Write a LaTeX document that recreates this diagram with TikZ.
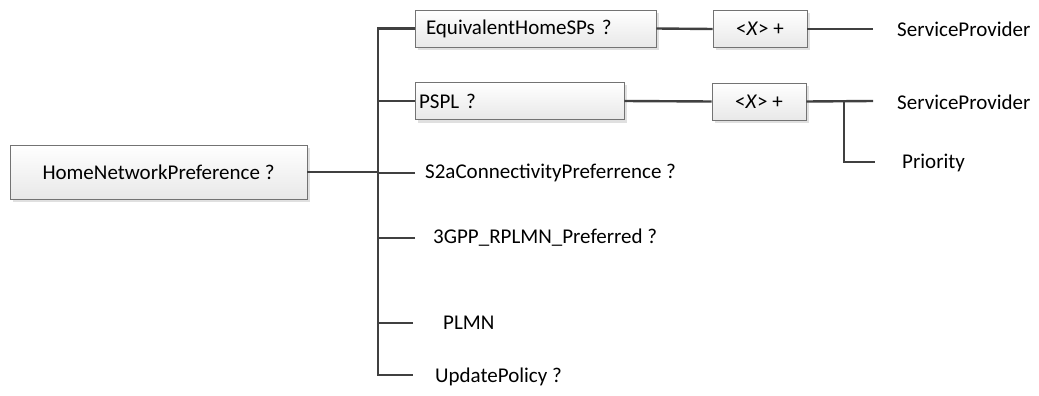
\documentclass[tikz,border=0pt]{standalone}
\usepackage{fontspec}
\setmainfont{Carlito}
\usepackage{tikz}
\usetikzlibrary{shadows}

\begin{document}
\begin{tikzpicture}[x=1pt,y=-1pt,font=\fontsize{21}{24}\selectfont,
  box/.style={draw=black!55,line width=0.8pt,top color=white,bottom color=black!9,
    drop shadow={shadow xshift=3pt,shadow yshift=-3pt,fill=black!12,opacity=1},
    minimum height=37pt},
  leaf/.style={anchor=west,inner sep=0pt},
  ln/.style={draw=black!75,line width=2.4pt}]
\useasboundingbox (0,0) rectangle (1039,396);

\node[box,minimum width=297pt,minimum height=54pt] (root) at (158.5,172) {HomeNetworkPreference ?};
\node[box,text width=219pt,align=left,inner xsep=11pt] (ehsp) at (535.5,28.5) {EquivalentHomeSPs ?};
\node[box,text width=201pt,align=left,inner xsep=4pt] (pspl) at (519.5,101) {PSPL ?};
\node[box,minimum width=94pt] (xa) at (760,29) {<\textit{X}> +};
\node[box,minimum width=94pt] (xb) at (759,101.5) {<\textit{X}> +};

\node[leaf] (spa) at (897,29) {ServiceProvider};
\node[leaf] (spb) at (897,102) {ServiceProvider};
\node[leaf] (prio) at (902,163) {Priority};
\node[leaf] (s2a) at (425,173) {S2aConnectivityPreferrence ?};
\node[leaf] (rplmn) at (433,238) {3GPP\_RPLMN\_Preferred ?};
\node[leaf] (plmn) at (443,323) {PLMN};
\node[leaf] (upd) at (435,377) {UpdatePolicy ?};

\coordinate (busbot) at (378,375);
\coordinate (spaend) at (873,29);
\coordinate (spbend) at (873,101);
\coordinate (fork) at (844,101);
\coordinate (prioend) at (875,162);
\coordinate (s2aend) at (415,173);
\coordinate (rplmnend) at (415,238);
\coordinate (plmnend) at (413,323);
\coordinate (updend) at (413,375);

\draw[ln] (ehsp.west) -| (busbot) -- (updend);
\draw[ln] (root.east) -- (root.east -| busbot);
\draw[ln] (pspl.west) -- (pspl.west -| busbot);
\draw[ln] (s2aend) -- (s2aend -| busbot);
\draw[ln] (rplmnend) -- (rplmnend -| busbot);
\draw[ln] (plmnend) -- (plmnend -| busbot);

\draw[ln] (ehsp.east) -- (xa.west);
\draw[ln] (xa.east) -- (spaend);
\draw[ln] (pspl.east) -- (xb.west);
\draw[ln] (xb.east) -- (spbend);
\draw[ln] (fork) |- (prioend);

\end{tikzpicture}
\end{document}
